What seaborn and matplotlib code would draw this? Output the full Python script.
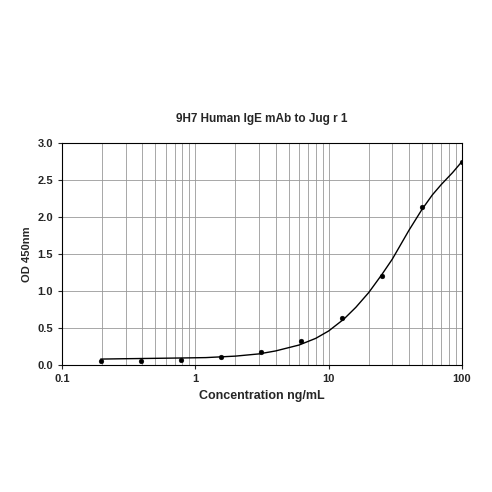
import matplotlib
matplotlib.use("Agg")
import matplotlib.pyplot as plt
import seaborn as sns
import numpy as np

conc = [0.195, 0.39, 0.78, 1.56, 3.125, 6.25, 12.5, 25, 50, 100]
od = [0.06, 0.06, 0.07, 0.11, 0.18, 0.33, 0.64, 1.20, 2.13, 2.75]
fit_x = [0.195, 0.3, 0.5, 0.8, 1.2, 2, 3, 4, 6, 8, 10, 13, 16, 20, 25, 30, 40, 50, 60, 70, 85, 100]
fit_y = [0.08, 0.085, 0.09, 0.095, 0.10, 0.12, 0.15, 0.19, 0.27, 0.36, 0.46, 0.62, 0.78, 0.98, 1.22, 1.43, 1.82, 2.10, 2.30, 2.44, 2.60, 2.75]

sns.set_style("white")
plt.rcParams['font.family'] = ['Liberation Sans', 'DejaVu Sans']
fig = plt.figure(figsize=(4.92, 4.92), dpi=100)
ax = fig.add_axes([62/492, 1-365/492, 400/492, 222/492])
sns.lineplot(x=fit_x, y=fit_y, ax=ax, color='black', linewidth=1)
sns.scatterplot(x=conc, y=od, ax=ax, color='black', s=12, edgecolor='black', zorder=3)
ax.set_xscale('log')
ax.set_xlim(0.1, 100)
ax.set_ylim(0, 3.0)
ax.set_yticks(np.arange(0, 3.01, 0.5))
ax.set_yticklabels([f"{v:.1f}" for v in np.arange(0, 3.01, 0.5)])
ax.set_xticks([0.1, 1, 10, 100])
ax.set_xticklabels(['0.1', '1', '10', '100'])
ax.xaxis.grid(True, which='both', color='#999999', linewidth=0.6)
ax.yaxis.grid(True, color='#999999', linewidth=0.6)
for s in ax.spines.values():
    s.set_color('black'); s.set_linewidth(0.8)
ax.tick_params(labelsize=8, length=3, direction='out', left=True, bottom=True)
for lbl in ax.get_xticklabels() + ax.get_yticklabels():
    lbl.set_fontweight('bold')
ax.set_xlabel('Concentration ng/mL', fontsize=9, fontweight='bold')
ax.set_ylabel('OD 450nm', fontsize=8, fontweight='bold')
ax.set_title('9H7 Human IgE mAb to Jug r 1', fontsize=8.5, fontweight='bold', pad=15)
fig.savefig('out.png', dpi=100)
